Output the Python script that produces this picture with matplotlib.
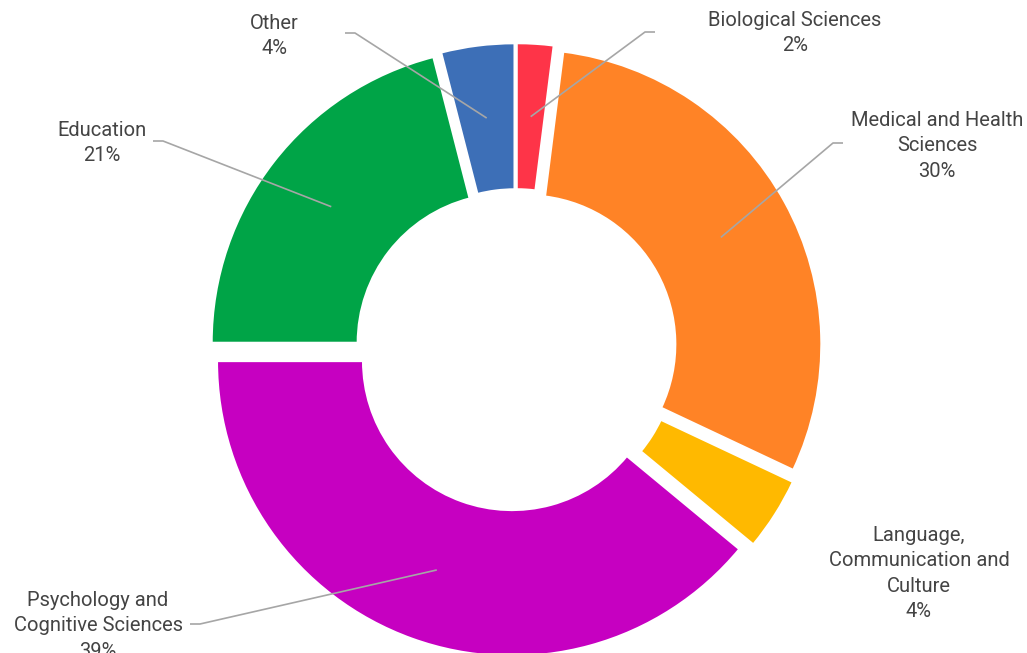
import matplotlib.pyplot as plt
import numpy as np

plt.rcParams['font.family'] = ['Roboto', 'DejaVu Sans']

# data
categories = ['Biological Sciences', 'Medical and Health Sciences',
              'Language, Communication and Culture',
              'Psychology and Cognitive Sciences', 'Education', 'Other']
label_text = ['Biological Sciences', 'Medical and Health\nSciences',
              'Language,\nCommunication and\nCulture',
              'Psychology and\nCognitive Sciences', 'Education', 'Other']
shares = [2, 30, 4, 39, 21, 4]
colors = ['#FE3448', '#FF8326', '#FFB900', '#C600C1', '#00A447', '#3D6FB7']

# label layout (figure pixels, y measured from top = top of text block)
label_pos = [(795, 11), (937, 111), (919, 526), (98, 591), (102, 121), (274, 14)]
elbow_pos = [(645, 32), (833, 143), None, (200, 624), (163, 141), (355, 33)]
tail_dir = [1, 1, 0, -1, -1, -1]

W, H = 1027, 653
fig = plt.figure(figsize=(W / 100, H / 100), dpi=100)
ax = fig.add_axes([0, 0, 1, 1])

cx, cy = 516, H - 350
R = 295
ring = 0.495
offset = 0.04 * R   # pie explode is in data units
wedges, _ = ax.pie(shares, colors=colors, startangle=90, counterclock=False,
                   radius=R, center=(cx, cy), explode=[offset] * len(shares),
                   wedgeprops=dict(width=R * ring, edgecolor='white', linewidth=1.5),
                   frame=True)
ax.set_xlim(0, W)
ax.set_ylim(0, H)
ax.set_aspect('equal')
ax.axis('off')

mid_r = R * (1 - ring / 2)
for w, txt, val, lp, ep, d in zip(wedges, label_text, shares, label_pos,
                                  elbow_pos, tail_dir):
    ang = np.deg2rad((w.theta1 + w.theta2) / 2)
    wx, wy = w.center
    sx, sy = wx + mid_r * np.cos(ang), wy + mid_r * np.sin(ang)
    if ep is not None:
        ex, ey = ep[0], H - ep[1]
        ax.plot([sx, ex, ex + 10 * d], [sy, ey, ey], color='#a6a6a6', lw=1.2,
                solid_capstyle='butt')
    ax.text(lp[0], H - lp[1], f'{txt}\n{val}%', ha='center', va='top',
            fontsize=14.5, color='#444444', linespacing=1.42)

fig.savefig('out.png', dpi=100)
